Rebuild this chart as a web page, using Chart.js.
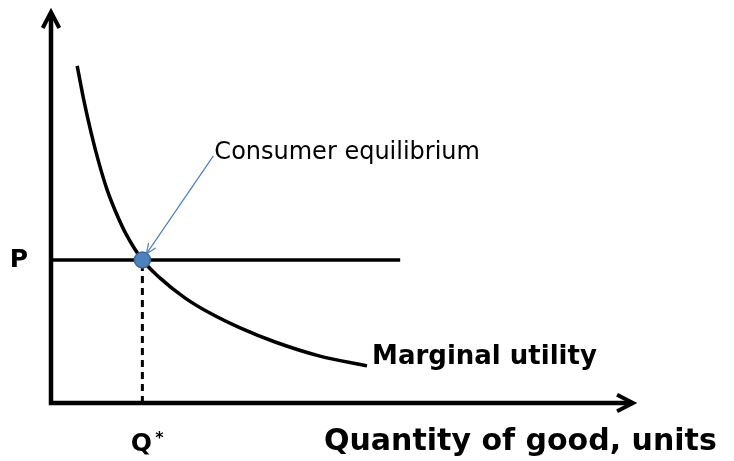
<!DOCTYPE html>
<html>
<head>
<meta charset="utf-8">
<script src="https://cdn.jsdelivr.net/npm/chart.js@4"></script>
<style>
    body { margin: 0; background: #fff; }
    #box { width: 734px; height: 461px; }
</style>
</head>
<body>
<div id="box"><canvas id="myChart"></canvas></div>
<script>
// marginal utility curve (axis units 0..10)
var curva_x = [0.45, 0.57, 0.69, 0.82, 0.96, 1.12, 1.29, 1.57, 1.87, 2.30, 2.73, 3.25, 3.85, 4.62, 5.43];
var curva_y = [8.62, 7.70, 6.91, 6.16, 5.47, 4.86, 4.32, 3.66, 3.20, 2.69, 2.30, 1.92, 1.56, 1.20, 0.95];

var preco = 3.66;       // P
var qtd_eq = 1.57;      // Q*
var preco_fim = 6.0;    // where the price line stops

var texto_p = 'P';
var texto_q = 'Q';
var texto_curva = 'Marginal utility';
var texto_eixo_x = 'Quantity of good, units';
var texto_equilibrio = 'Consumer equilibrium';

var fonte = '"DejaVu Sans", Verdana, sans-serif';

function seta(ctx, x1, y1, x2, y2, tam, ang) {
    var a = Math.atan2(y2 - y1, x2 - x1);
    ctx.beginPath();
    ctx.moveTo(x2 - tam * Math.cos(a - ang), y2 - tam * Math.sin(a - ang));
    ctx.lineTo(x2, y2);
    ctx.lineTo(x2 - tam * Math.cos(a + ang), y2 - tam * Math.sin(a + ang));
    ctx.stroke();
}

var desenho = {
    id: 'desenho',
    afterDatasetsDraw: function (chart) {
        var ctx = chart.ctx;
        var area = chart.chartArea;
        var sx = chart.scales.x;
        var sy = chart.scales.y;
        ctx.save();
        ctx.lineCap = 'butt';
        ctx.lineJoin = 'miter';

        // eixos
        ctx.strokeStyle = '#000';
        ctx.lineWidth = 4.5;
        ctx.beginPath();
        ctx.moveTo(area.left, area.top + 1);
        ctx.lineTo(area.left, area.bottom);
        ctx.lineTo(area.right - 1, area.bottom);
        ctx.stroke();
        ctx.lineWidth = 4;
        seta(ctx, area.left, area.bottom, area.left, area.top, 18, 0.48);
        seta(ctx, area.left, area.bottom, area.right, area.bottom, 18, 0.48);

        // P e Q*
        ctx.fillStyle = '#000';
        ctx.font = 'bold 25px ' + fonte;
        ctx.textAlign = 'right';
        ctx.textBaseline = 'middle';
        ctx.fillText(texto_p, 28, sy.getPixelForValue(preco) + 1);

        var qx = sx.getPixelForValue(qtd_eq);
        ctx.textAlign = 'center';
        ctx.textBaseline = 'alphabetic';
        ctx.fillText(texto_q, qx - 1, 451);
        ctx.font = 'bold 16px ' + fonte;
        ctx.fillText('*', qx + 17, 443);

        // rotulo da curva
        var ult = curva_x.length - 1;
        ctx.font = 'bold 26px ' + fonte;
        ctx.textAlign = 'left';
        ctx.textBaseline = 'middle';
        ctx.fillText(texto_curva, sx.getPixelForValue(curva_x[ult]) + 5, sy.getPixelForValue(curva_y[ult]) - 9);

        // titulo eixo x
        ctx.font = 'bold 30px ' + fonte;
        ctx.fillText(texto_eixo_x, 324, 442);

        // anotacao
        var px = sx.getPixelForValue(qtd_eq);
        var py = sy.getPixelForValue(preco);
        var tx = px + 71;
        var ty = py - 104;
        ctx.font = '24px ' + fonte;
        ctx.textBaseline = 'middle';
        ctx.fillText(texto_equilibrio, tx + 1, ty - 3);
        ctx.strokeStyle = '#4A7EBB';
        ctx.lineWidth = 1.2;
        ctx.beginPath();
        ctx.moveTo(tx, ty);
        ctx.lineTo(px + 4, py - 6);
        ctx.stroke();
        seta(ctx, tx, ty, px + 4, py - 6, 11, 0.4);

        ctx.restore();
    }
};

var pontos_curva = [];
for (var i = 0; i < curva_x.length; i++) {
    pontos_curva.push({ x: curva_x[i], y: curva_y[i] });
}

var data = {
    datasets: [
        {
            data: [{ x: qtd_eq, y: preco }],
            type: 'scatter',
            pointRadius: 8,
            pointBackgroundColor: '#4F81BD',
            pointBorderColor: '#3A679C',
            pointBorderWidth: 1.5,
            order: 0
        },
        {
            data: pontos_curva,
            borderColor: '#000',
            borderWidth: 3.5,
            cubicInterpolationMode: 'monotone',
            pointRadius: 0,
            order: 1
        },
        {
            data: [{ x: 0, y: preco }, { x: preco_fim, y: preco }],
            borderColor: '#000',
            borderWidth: 3.5,
            pointRadius: 0,
            order: 2
        },
        {
            data: [{ x: qtd_eq, y: 0 }, { x: qtd_eq, y: preco }],
            borderColor: '#000',
            borderWidth: 3,
            borderDash: [7, 5],
            pointRadius: 0,
            order: 3
        }
    ]
};

var config = {
    type: 'line',
    data: data,
    options: {
        responsive: true,
        maintainAspectRatio: false,
        animation: false,
        clip: false,
        layout: { padding: { left: 51, right: 101, top: 12, bottom: 58 } },
        plugins: { legend: { display: false }, tooltip: { enabled: false } },
        scales: {
            x: { type: 'linear', min: 0, max: 10, display: false },
            y: { type: 'linear', min: 0, max: 10, display: false }
        }
    },
    plugins: [desenho]
};

var myChart = new Chart(document.getElementById('myChart'), config);
</script>
</body>
</html>
